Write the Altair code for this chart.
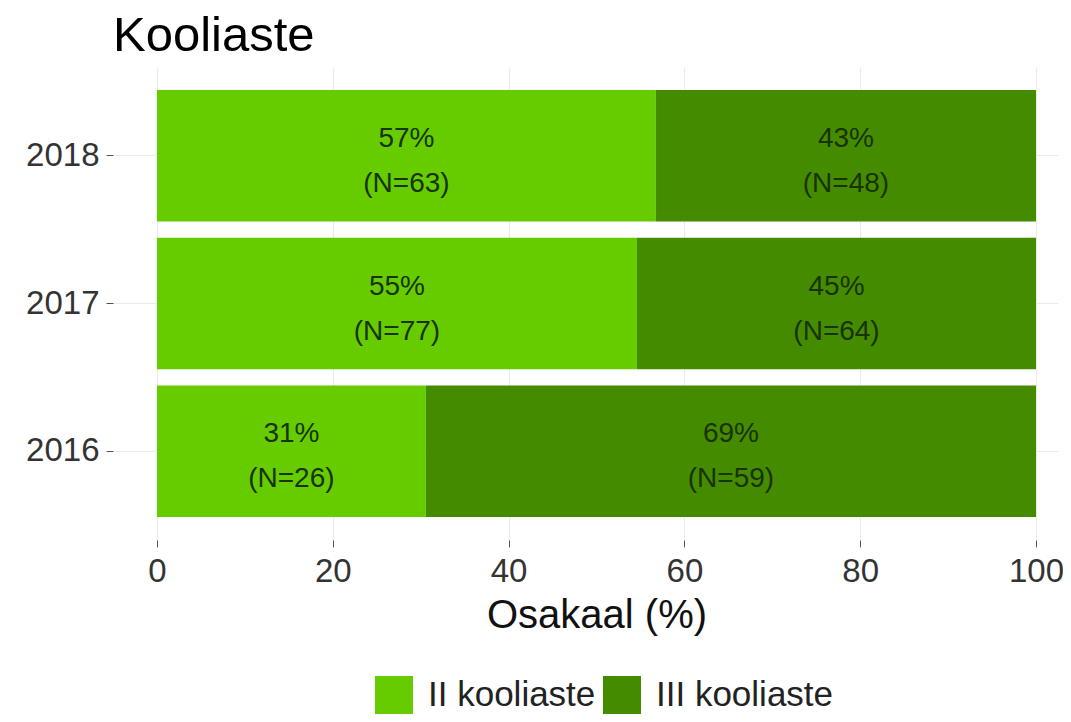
import altair as alt
import pandas as pd

years = ["2018", "2017", "2016"]
levels = ["II kooliaste", "III kooliaste"]
n_ii = [63, 77, 26]
n_iii = [48, 64, 59]
colors = ["#66CC00", "#458B00"]
x_ticks = [0, 20, 40, 60, 80, 100]

rows = []
for i, y in enumerate(years):
    rows.append({"year": y, "level": levels[0], "n": n_ii[i], "ord": 0})
    rows.append({"year": y, "level": levels[1], "n": n_iii[i], "ord": 1})
df = pd.DataFrame(rows)

FONT = "Liberation Sans"

base = alt.Chart(df).transform_joinaggregate(
    total="sum(n)", groupby=["year"]
).transform_calculate(
    pct="datum.n / datum.total * 100"
)

y_enc = alt.Y(
    "year:N",
    sort=years,
    scale=alt.Scale(paddingInner=0.11, paddingOuter=0.155),
    axis=alt.Axis(
        title=None,
        labelFontSize=33,
        labelFont=FONT,
        labelColor="#333333",
        tickSize=7,
        tickColor="#555555",
        labelPadding=7,
        domain=False,
        grid=True,
        gridColor="#EBEBEB",
        gridWidth=1.2,
    ),
)

x_scale = alt.Scale(domain=[-5, 102.5], nice=False, zero=False)

bars = base.mark_bar().encode(
    y=y_enc,
    x=alt.X(
        "pct:Q",
        stack="zero",
        scale=x_scale,
        axis=alt.Axis(
            values=x_ticks,
            title="Osakaal (%)",
            titleFontSize=40,
            titleFont=FONT,
            titleFontWeight="normal",
            titleColor="#111111",
            titleBaseline="alphabetic",
            titleAlign="center",
            titleX=483.5,
            titleY=87,
            labelFontSize=33,
            labelFont=FONT,
            labelColor="#333333",
            labelFlush=False,
            labelOverlap=False,
            tickSize=7,
            tickColor="#555555",
            labelPadding=8,
            domain=False,
            grid=True,
            gridColor="#EBEBEB",
            gridWidth=1.2,
        ),
    ),
    color=alt.Color(
        "level:N",
        scale=alt.Scale(domain=levels, range=colors),
        legend=alt.Legend(
            title=None,
            orient="none",
            legendX=262,
            legendY=609,
            direction="horizontal",
            symbolType="square",
            symbolSize=1444,
            symbolStrokeWidth=0,
            symbolOpacity=1,
            labelFontSize=35,
            labelFont=FONT,
            labelColor="#222222",
            labelOffset=15,
            labelLimit=400,
            columnPadding=7,
            padding=0,
        ),
    ),
    order=alt.Order("ord:Q"),
)

texts = base.transform_stack(
    stack="pct", groupby=["year"], as_=["x0", "x1"], sort=[alt.SortField("ord")]
).transform_calculate(
    mid="(datum.x0 + datum.x1) / 2",
    label="[format(datum.pct, '.0f') + '%', '(N=' + datum.n + ')']",
).mark_text(
    fontSize=28, font=FONT, color="#183300", lineHeight=45, dy=-17
).encode(
    y=alt.Y("year:N", sort=years),
    x=alt.X("mid:Q", scale=x_scale),
    text=alt.Text("label:N"),
)

chart = alt.layer(bars, texts).properties(
    width=945,
    height=473,
    autosize=alt.AutoSizeParams(type="none"),
    padding={"left": 105, "top": 59, "right": 5, "bottom": 174},
    title=alt.TitleParams(
        "Kooliaste",
        anchor="start",
        fontSize=49,
        font=FONT,
        fontWeight="normal",
        color="#000000",
        baseline="bottom",
        offset=0,
        dy=43,
        frame="group",
    ),
).configure(background="white").configure_view(strokeWidth=0, stroke="transparent")

chart.save("out.html", embed_options={"renderer": "svg", "actions": False})
